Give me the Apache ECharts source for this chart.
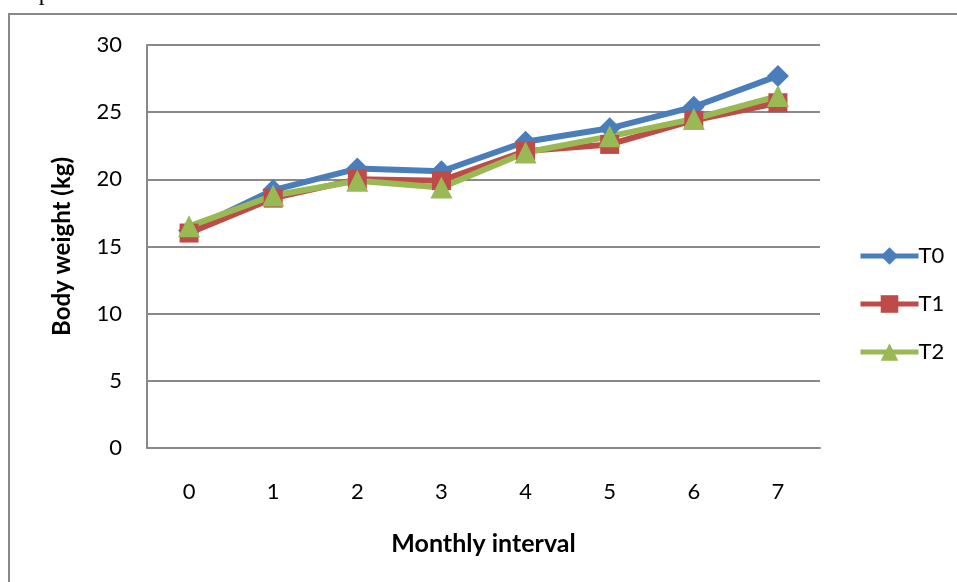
<!DOCTYPE html>
<html>
<head>
<meta charset="utf-8">
<script src="https://cdn.jsdelivr.net/npm/echarts@6/dist/echarts.min.js"></script>
<style>
  html, body { margin: 0; padding: 0; background: #fff; }
  #chart { width: 957px; height: 582px; }
</style>
</head>
<body>
<div id="chart"></div>
<script>
// Monthly body weight (kg) for three treatment groups
const months = ['0', '1', '2', '3', '4', '5', '6', '7'];
const t0 = [16.2, 19.2, 20.8, 20.6, 22.8, 23.8, 25.4, 27.7];
const t1 = [16.0, 18.6, 20.0, 19.9, 22.1, 22.6, 24.4, 25.7];
const t2 = [16.5, 18.8, 19.9, 19.4, 22.0, 23.2, 24.5, 26.2];
const yTicks = { min: 0, max: 30, step: 5 };

const FONT = 'Lato, "Open Sans", sans-serif';
const GRID_GRAY = '#898989';

const chart = echarts.init(document.getElementById('chart'), null, { renderer: 'canvas' });

function lineSeries(name, data, color, symbol, size) {
  return {
    name: name,
    type: 'line',
    data: data,
    symbol: symbol,
    symbolSize: size,
    showSymbol: true,
    lineStyle: { color: color, width: 6 },
    itemStyle: { color: color, borderWidth: 0 },
    emphasis: { disabled: true },
    animation: false
  };
}

chart.setOption({
  backgroundColor: '#ffffff',
  animation: false,
  textStyle: { fontFamily: FONT },
  graphic: [
    {
      type: 'rect',
      shape: { x: 9, y: 14, width: 1000, height: 700 },
      style: { fill: 'none', stroke: GRID_GRAY, lineWidth: 2 },
      z: 0
    },
    {
      type: 'text',
      left: 22,
      top: -18,
      style: { text: 'e period.', font: '24px "Liberation Serif", serif', fill: '#000' }
    }
  ],
  grid: { left: 147, right: 137, top: 45, bottom: 134 },
  legend: {
    orient: 'vertical',
    left: 853,
    top: 240,
    itemGap: 26,
    itemWidth: 58,
    itemHeight: 22,
    lineStyle: { width: 5 },
    textStyle: { fontFamily: FONT, fontSize: 22, color: '#000', padding: [0, 0, 0, -5] },
    data: ['T0', 'T1', 'T2']
  },
  xAxis: {
    type: 'category',
    data: months,
    boundaryGap: true,
    name: 'Monthly interval',
    nameLocation: 'middle',
    nameGap: 83,
    nameTextStyle: { fontFamily: FONT, fontSize: 25, fontWeight: 'bold', color: '#000' },
    axisLine: { lineStyle: { color: GRID_GRAY, width: 2 } },
    axisTick: { show: false },
    axisLabel: { fontFamily: FONT, fontSize: 22, color: '#000', margin: 33 }
  },
  yAxis: {
    type: 'value',
    min: yTicks.min,
    max: yTicks.max,
    interval: yTicks.step,
    name: 'Body weight (kg)',
    nameLocation: 'middle',
    nameGap: 73,
    nameRotate: 90,
    nameTextStyle: { fontFamily: FONT, fontSize: 24, fontWeight: 'bold', color: '#000' },
    axisLine: { show: true, lineStyle: { color: GRID_GRAY, width: 2 } },
    axisTick: { show: false },
    axisLabel: { fontFamily: FONT, fontSize: 22, color: '#000', margin: 25 },
    splitLine: { lineStyle: { color: GRID_GRAY, width: 2 } }
  },
  series: [
    lineSeries('T0', t0, '#4A7EBB', 'diamond', 22),
    lineSeries('T1', t1, '#BE4B48', 'rect', 19),
    lineSeries('T2', t2, '#98B954', 'triangle', 22)
  ]
});
</script>
</body>
</html>
